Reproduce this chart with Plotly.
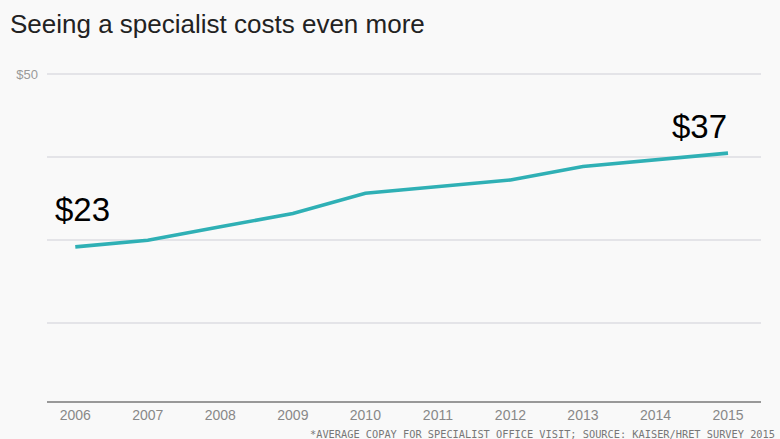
import plotly.graph_objects as go

# Data
years = [2006, 2007, 2008, 2009, 2010, 2011, 2012, 2013, 2014, 2015]
copay = [23, 24, 26, 28, 31, 32, 33, 35, 36, 37]
label_text = ["$23", "$37"]
title_text = "Seeing a specialist costs even more"
footnote_text = "*AVERAGE COPAY FOR SPECIALIST OFFICE VISIT; SOURCE: KAISER/HRET SURVEY 2015"
grid_vals = [11.65, 24.05, 36.45, 48.75]
grid_text = ["", "", "", "$50"]

fig = go.Figure()
fig.add_trace(go.Scatter(
    x=years, y=copay, mode="lines",
    line=dict(color="#2fb0b5", width=3.6),
    hoverinfo="skip", showlegend=False,
))

fig.add_annotation(x=years[0], y=copay[0], text=label_text[0], showarrow=False,
                   xanchor="left", yanchor="middle", xshift=-22, yshift=37,
                   font=dict(family="Liberation Sans", size=33, color="#000"))
fig.add_annotation(x=years[-1], y=copay[-1], text=label_text[1], showarrow=False,
                   xanchor="right", yanchor="middle", xshift=1, yshift=27,
                   font=dict(family="Liberation Sans", size=33, color="#000"))

fig.add_annotation(xref="paper", yref="paper", x=1.0224, y=-0.097,
                   text=footnote_text, showarrow=False,
                   xanchor="right", yanchor="middle",
                   font=dict(family="DejaVu Sans Mono", size=10.3, color="#777"))

fig.update_layout(
    width=780, height=439,
    margin=dict(l=47, r=19, t=60, b=38),
    paper_bgcolor="#f9f9f9", plot_bgcolor="#f9f9f9",
    title=dict(text=title_text, x=10/780, xanchor="left", xref="container",
               y=1 - 24/439, yanchor="middle", yref="container",
               font=dict(family="Liberation Sans", size=26, color="#222")),
    xaxis=dict(range=[2005.61, 2015.455], tickvals=years, showgrid=False,
               zeroline=False, showline=True, linecolor="#999", linewidth=2,
               ticks="", tickfont=dict(family="Liberation Sans", size=14, color="#888")),
    yaxis=dict(range=[0, 50.9], tickvals=grid_vals, ticktext=grid_text,
               showgrid=True, gridcolor="#e4e4e8", gridwidth=1.5,
               zeroline=False, showline=False, ticks="", ticklabelstandoff=8,
               tickfont=dict(family="Liberation Sans", size=13, color="#999")),
)

fig.write_html("out.html", config={"displayModeBar": False},
               post_script="document.body.style.margin='0';document.body.style.background='#f9f9f9';")
